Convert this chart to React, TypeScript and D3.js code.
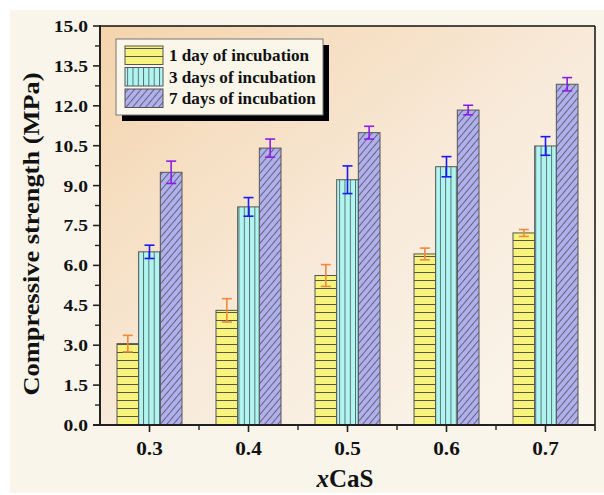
import React from "react";
import * as d3 from "d3";

const categories = ["0.3", "0.4", "0.5", "0.6", "0.7"];
const seriesNames = ["1 day of incubation", "3 days of incubation", "7 days of incubation"];
const day1 = [3.06, 4.31, 5.62, 6.43, 7.22];
const day1Err = [0.31, 0.44, 0.41, 0.22, 0.13];
const day3 = [6.51, 8.2, 9.22, 9.71, 10.49];
const day3Err = [0.25, 0.35, 0.52, 0.38, 0.35];
const day7 = [9.5, 10.41, 10.99, 11.84, 12.81];
const day7Err = [0.42, 0.34, 0.24, 0.18, 0.25];
const yTicks = [0, 1.5, 3, 4.5, 6, 7.5, 9, 10.5, 12, 13.5, 15];

const W = 604, H = 495;
const L = 100, R = 595, T = 26, B = 425;
const FONT = "'Liberation Serif', 'Times New Roman', serif";

const fills = ["url(#pH)", "url(#pV)", "url(#pD)"];
const errColors = ["#f08a3c", "#1b1bf0", "#8a1ee6"];

export default function App() {
  const x = d3.scaleBand().domain(categories).range([L, R]).padding(0);
  const y = d3.scaleLinear().domain([0, 15]).range([B, T]);
  const inner = d3.scaleBand().domain(["0", "1", "2"]).range([0, 65]).padding(0);
  const data = [day1, day3, day7];
  const errs = [day1Err, day3Err, day7Err];
  const minorY = d3.range(0.75, 15, 1.5);
  const bw = x.bandwidth();

  return (
    <svg width={W} height={H} style={{ position: "absolute", left: 0, top: 0 }} fontFamily={FONT}>
      <defs>
        <linearGradient id="bg" x1="0" y1="0" x2="1" y2="1">
          <stop offset="0" stopColor="#f4d4ac" />
          <stop offset="0.55" stopColor="#f8ebdc" />
          <stop offset="1" stopColor="#faf6ec" />
        </linearGradient>
        <pattern id="pH" patternUnits="userSpaceOnUse" width="10" height="8">
          <rect width="10" height="8" fill="#f7f37c" />
          <line x1="0" y1="0.5" x2="10" y2="0.5" stroke="#444" strokeWidth="0.9" />
        </pattern>
        <pattern id="pV" patternUnits="userSpaceOnUse" width="5.3" height="10">
          <rect width="5.3" height="10" fill="#aff5f1" />
          <line x1="0.5" y1="0" x2="0.5" y2="10" stroke="#444" strokeWidth="0.8" />
        </pattern>
        <pattern id="pD" patternUnits="userSpaceOnUse" width="5" height="10" patternTransform="rotate(40)">
          <rect width="5" height="10" fill="#b0b0ee" />
          <line x1="0.5" y1="0" x2="0.5" y2="10" stroke="#444" strokeWidth="0.7" />
        </pattern>
      </defs>
      <rect x={0} y={0} width={W} height={H} fill="#ffffff" />
      <rect x={10} y={10} width={W - 10} height={483} fill="#f9f5ea" />
      <rect x={L} y={T} width={R - L} height={B - T} fill="url(#bg)" />

      {/* bars */}
      {categories.map((c, i) => {
        const gx = (x(c) as number) + bw / 2 - 32.5;
        return (
          <g key={c}>
            {data.map((s, k) => {
              const bx = gx + (inner(String(k)) as number);
              const w = inner.bandwidth();
              const v = s[i];
              const e = errs[k][i];
              const cx = bx + w / 2;
              return (
                <g key={k}>
                  <rect x={bx} y={y(v)} width={w} height={B - y(v)} fill={fills[k]} stroke="#555" strokeWidth={1} />
                  <g stroke={errColors[k]} strokeWidth={1.6}>
                    <line x1={cx} x2={cx} y1={y(v + e)} y2={y(v - e)} />
                    <line x1={cx - 5} x2={cx + 5} y1={y(v + e)} y2={y(v + e)} />
                    <line x1={cx - 5} x2={cx + 5} y1={y(v - e)} y2={y(v - e)} />
                  </g>
                </g>
              );
            })}
          </g>
        );
      })}

      {/* frame */}
      <line x1={L} x2={R} y1={T} y2={T} stroke="#111" strokeWidth={1.5} />
      <line x1={R} x2={R} y1={T} y2={B + 6} stroke="#111" strokeWidth={1.5} />
      <line x1={L} x2={L} y1={T - 1} y2={B} stroke="#222" strokeWidth={2} />
      <line x1={L - 7} x2={R} y1={B} y2={B} stroke="#222" strokeWidth={2} />

      {/* y ticks */}
      {yTicks.map((t) => (
        <g key={t}>
          <line x1={L - 7} x2={L} y1={y(t)} y2={y(t)} stroke="#222" strokeWidth={1.6} />
          <text
            transform={`translate(${L - 12},${y(t)}) scale(1.15,1)`}
            dy="0.35em"
            textAnchor="end"
            fontSize={17}
            fontWeight="bold"
            fill="#111"
          >
            {d3.format(".1f")(t)}
          </text>
        </g>
      ))}
      {minorY.map((t) => (
        <line key={t} x1={L - 5} x2={L} y1={y(t)} y2={y(t)} stroke="#222" strokeWidth={1.4} />
      ))}

      {/* x ticks */}
      {categories.map((c) => {
        const cx = (x(c) as number) + bw / 2;
        return (
          <g key={c}>
            <line x1={cx} x2={cx} y1={B} y2={B + 7} stroke="#222" strokeWidth={1.6} />
            <text
              transform={`translate(${cx},${B + 30}) scale(1.18,1)`}
              textAnchor="middle"
              fontSize={18}
              fontWeight="bold"
              fill="#111"
            >
              {c}
            </text>
          </g>
        );
      })}
      {categories.slice(1).map((c) => (
        <line key={c} x1={x(c) as number} x2={x(c) as number} y1={B} y2={B + 5} stroke="#222" strokeWidth={1.4} />
      ))}

      {/* axis titles */}
      <text
        transform={`translate(${39},${234}) rotate(-90) scale(1.1,1)`}
        textAnchor="middle"
        fontSize={24}
        fontWeight="bold"
        fill="#111"
      >
        Compressive strength (MPa)
      </text>
      <text x={345} y={487} textAnchor="middle" fontSize={25} fontWeight="bold" fill="#111">
        <tspan fontStyle="italic">x</tspan>CaS
      </text>

      {/* legend */}
      <rect x={122} y={45} width={207} height={76} fill="#000" />
      <rect x={116} y={39} width={207} height={76} fill="#faf6ea" stroke="#777" strokeWidth={1} />
      {seriesNames.map((n, k) => (
        <g key={n}>
          <rect x={125} y={46 + k * 21.5} width={38} height={18.5} fill={fills[k]} stroke="#555" strokeWidth={1} />
          <text
            transform={`translate(169,${61 + k * 21.5}) scale(1.07,1)`}
            fontSize={16}
            fontWeight="bold"
            fill="#111"
          >
            {n}
          </text>
        </g>
      ))}
    </svg>
  );
}
